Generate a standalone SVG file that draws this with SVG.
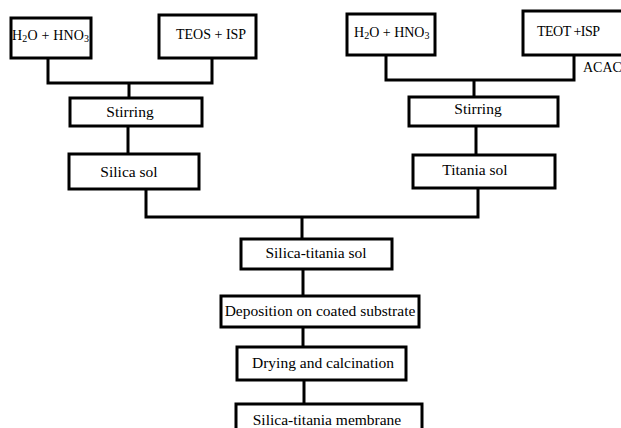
<svg xmlns="http://www.w3.org/2000/svg" width="621" height="428" viewBox="0 0 621 428">
<style>
.box{fill:#fff;stroke:#000;stroke-width:3}
.ln{fill:none;stroke:#000;stroke-width:3}
text{font-family:"Liberation Serif","Times New Roman",serif;font-size:15.5px;fill:#000}
.s{font-size:14px}
.c{text-anchor:middle}
</style>
<rect width="621" height="428" fill="#fff"/>
<g id="connectors">
<path class="ln" d="M48,58V83H212V58M129,83V98"/>
<path class="ln" d="M128,126V154"/>
<path class="ln" d="M386,55V80H574V55M474,80V97"/>
<path class="ln" d="M476,126V155"/>
<path class="ln" d="M146,189V217H478V188M302,217V239"/>
<path class="ln" d="M303,269V296"/>
<path class="ln" d="M303,327V347"/>
<path class="ln" d="M304,380V404"/>
</g>
<g id="n1"><rect class="box" x="11" y="18" width="80" height="40"/><text class="s" x="12" y="40" textLength="77">H<tspan font-size="10" dy="2">2</tspan><tspan dy="-2">O + HNO</tspan><tspan font-size="10" dy="2">3</tspan></text></g>
<g id="n2"><rect class="box" x="159" y="15" width="97" height="43"/><text class="s" x="176" y="39">TEOS  + ISP</text></g>
<g id="n3"><rect class="box" x="347" y="14" width="88" height="41"/><text class="s" x="354" y="37">H<tspan font-size="10" dy="2">2</tspan><tspan dy="-2">O +  HNO</tspan><tspan font-size="10" dy="2">3</tspan></text></g>
<g id="n4"><rect class="box" x="523" y="11" width="110" height="44"/><text class="s" x="537" y="36" textLength="63">TEOT +ISP</text></g>
<g id="acac"><text class="s" x="583" y="72">ACAC</text></g>
<g id="n5"><rect class="box" x="70" y="98" width="132" height="28"/><text class="c" x="130" y="117">Stirring</text></g>
<g id="n6"><rect class="box" x="69" y="154" width="130" height="35"/><text class="c" x="129" y="177">Silica sol</text></g>
<g id="n7"><rect class="box" x="409" y="97" width="149" height="29"/><text class="c" x="478" y="114">Stirring</text></g>
<g id="n8"><rect class="box" x="413" y="155" width="142" height="33"/><text class="c" x="475" y="175">Titania sol</text></g>
<g id="n9"><rect class="box" x="241" y="239" width="151" height="30"/><text class="c" x="316" y="258">Silica-titania sol</text></g>
<g id="n10"><rect class="box" x="221" y="296" width="198" height="31"/><text class="c" x="320" y="316">Deposition on coated substrate</text></g>
<g id="n11"><rect class="box" x="237" y="347" width="169" height="33"/><text class="c" x="323" y="368">Drying and calcination</text></g>
<g id="n12"><rect class="box" x="236" y="404" width="186" height="30"/><text class="c" x="327" y="425">Silica-titania membrane</text></g>
</svg>
